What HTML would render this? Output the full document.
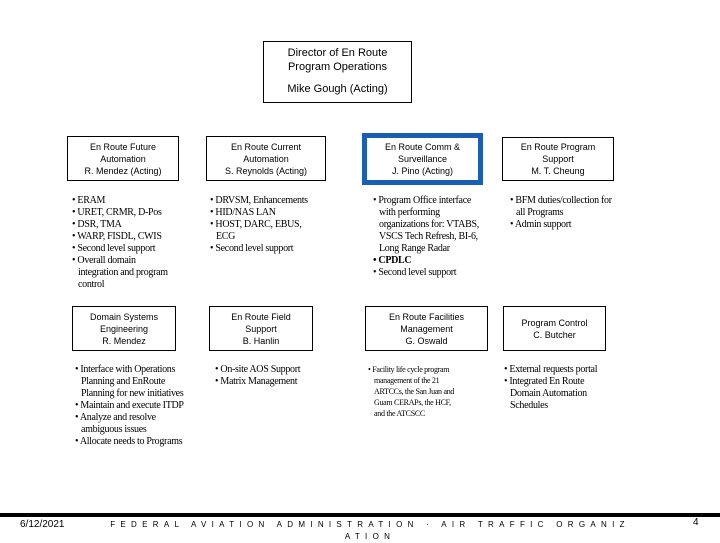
<!DOCTYPE html>
<html><head><style>
body{margin:0;width:720px;height:540px;position:relative;background:#fff;overflow:hidden;font-family:"Liberation Sans",sans-serif;color:#000}
.b{position:absolute;border:1px solid #000;box-sizing:border-box;text-align:center;font-size:9px;line-height:12px;display:flex;flex-direction:column;justify-content:center}
.t{position:absolute;font-family:"Liberation Serif",serif;font-size:10px;line-height:12px;letter-spacing:-0.3px}
.t div{padding-left:6px;text-indent:-6px}
</style></head><body>
<div class="b" style="left:263px;top:41px;width:149px;height:62px;font-size:11px;line-height:14px;justify-content:flex-start;padding-top:4px">Director of En Route<br>Program Operations<div style="margin-top:8px">Mike Gough (Acting)</div></div>

<div class="b" style="left:67px;top:136px;width:112px;height:45px">En Route Future<br>Automation<br>R. Mendez (Acting)</div>
<div class="b" style="left:206px;top:136px;width:120px;height:45px">En Route Current<br>Automation<br>S. Reynolds (Acting)</div>
<div class="b" style="left:362px;top:133px;width:121px;height:52px;border:5px solid #1a5fb4">En Route Comm &amp;<br>Surveillance<br>J. Pino (Acting)</div>
<div class="b" style="left:502px;top:137px;width:112px;height:44px">En Route Program<br>Support<br>M. T. Cheung</div>

<div class="t" style="left:72px;top:195px;width:102px">
<div>• ERAM</div><div>• URET, CRMR, D-Pos</div><div>• DSR, TMA</div><div>• WARP, FISDL, CWIS</div><div>• Second level support</div><div>• Overall domain integration and program control</div></div>
<div class="t" style="left:210px;top:195px;width:100px">
<div>• DRVSM, Enhancements</div><div>• HID/NAS LAN</div><div>• HOST, DARC, EBUS, ECG</div><div>• Second level support</div></div>
<div class="t" style="left:373px;top:195px;width:110px">
<div>• Program Office interface with performing organizations for: VTABS, VSCS Tech Refresh, BI-6, Long Range Radar</div><div><b>• CPDLC</b></div><div>• Second level support</div></div>
<div class="t" style="left:510px;top:195px;width:112px">
<div>• BFM duties/collection for all Programs</div><div>• Admin support</div></div>

<div class="b" style="left:72px;top:306px;width:104px;height:45px">Domain Systems<br>Engineering<br>R. Mendez</div>
<div class="b" style="left:209px;top:306px;width:104px;height:45px">En Route Field<br>Support<br>B. Hanlin</div>
<div class="b" style="left:365px;top:306px;width:123px;height:45px">En Route Facilities<br>Management<br>G. Oswald</div>
<div class="b" style="left:503px;top:306px;width:103px;height:45px">Program Control<br>C. Butcher</div>

<div class="t" style="left:75px;top:364px;width:120px">
<div>• Interface with Operations Planning and EnRoute Planning for new initiatives</div><div>• Maintain and execute ITDP</div><div>• Analyze and resolve ambiguous issues</div><div>• Allocate needs to Programs</div></div>
<div class="t" style="left:215px;top:364px;width:110px">
<div>• On-site AOS Support</div><div>• Matrix Management</div></div>
<div class="t" style="left:368px;top:364px;width:92px;font-size:8px;line-height:11px">
<div>• Facility life cycle program management of the 21 ARTCCs, the San Juan and Guam CERAPs, the HCF, and the ATCSCC</div></div>
<div class="t" style="left:504px;top:364px;width:100px">
<div>• External requests portal</div><div>• Integrated En Route Domain Automation Schedules</div></div>

<div style="position:absolute;left:0;top:513px;width:720px;height:4px;background:#000"></div>
<div style="position:absolute;left:20px;top:519px;font-size:10px">6/12/2021</div>
<div style="position:absolute;left:100px;top:519px;width:540px;text-align:center;font-size:8px;letter-spacing:5.3px;line-height:12px">FEDERAL AVIATION ADMINISTRATION · AIR TRAFFIC ORGANIZ<br>ATION</div>
<div style="position:absolute;left:693px;top:517px;font-size:10px">4</div>
</body></html>
